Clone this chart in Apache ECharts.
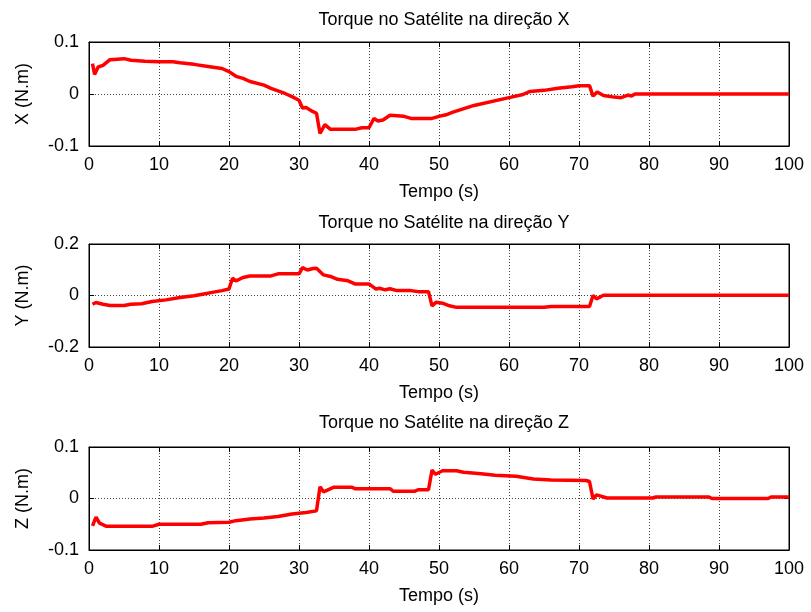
<!DOCTYPE html>
<html>
<head>
<meta charset="utf-8">
<script src="https://cdn.jsdelivr.net/npm/echarts@6/dist/echarts.min.js"></script>
<style>html,body{margin:0;padding:0;background:#fff;}#c{width:811px;height:612px;}</style>
</head>
<body>
<div id="c"></div>
<script>
// ---- Data ----
const xTicks = [0,10,20,30,40,50,60,70,80,90,100];
const titles = ['Torque no Satélite na direção X','Torque no Satélite na direção Y','Torque no Satélite na direção Z'];
const yNames = ['X (N.m)','Y (N.m)','Z (N.m)'];
const yRanges = [[-0.1,0.1,0.1],[-0.2,0.2,0.2],[-0.1,0.1,0.1]];

const timeX = [0.5,0.8,1.3,2,3,5,6,8,10,12,13,15,17,19,20,21,22,23,25,26,27,28,29,30,30.5,31,32,32.5,33,33.7,34.5,38,39,40,40.7,41.3,42,43,45,46,49,50,51,52,55,60,62,63,65,67,69,70,71.5,72,72.6,73.5,75,76,77,77.5,78,100];
const torqueX = [0.0585,0.0375,0.052,0.055,0.066,0.068,0.065,0.063,0.062,0.062,0.06,0.057,0.053,0.049,0.043,0.034,0.030,0.024,0.017,0.011,0.006,0.001,-0.005,-0.012,-0.027,-0.026,-0.034,-0.037,-0.076,-0.059,-0.068,-0.068,-0.065,-0.065,-0.047,-0.052,-0.05,-0.041,-0.043,-0.047,-0.047,-0.043,-0.04,-0.035,-0.022,-0.007,-0.001,0.005,0.007,0.011,0.014,0.016,0.016,-0.004,0.004,-0.003,-0.006,-0.007,-0.002,-0.004,0,0];

const timeY = [0.5,1,2,3,5,6,7.5,9,11,13,15,16,18,19,20,20.5,21,22,23,26,27,30,30.5,31.2,32,32.5,33.5,34.5,35.5,37,38,40,41,41.5,42.3,43,44,46,47,48.5,49,49.6,50.5,51.5,52.5,65,66,71.5,72,72.5,73.5,100];
const torqueY = [-0.034,-0.027,-0.034,-0.039,-0.039,-0.034,-0.032,-0.023,-0.017,-0.008,-0.001,0.004,0.014,0.019,0.025,0.067,0.057,0.07,0.076,0.076,0.084,0.084,0.108,0.099,0.105,0.106,0.080,0.074,0.063,0.057,0.045,0.045,0.025,0.028,0.022,0.026,0.019,0.019,0.015,0.015,-0.04,-0.026,-0.03,-0.04,-0.046,-0.046,-0.043,-0.043,0,-0.013,0.001,0.001];

const timeZ = [0.5,1,1.5,2.5,9,10,16,17,20,21,23,25,27,29,31,32.5,33,33.5,35,37.5,38,43,43.5,46.5,47,48.5,49,49.5,50.5,52.5,53.5,56,58,61,63.5,66,71,71.5,72,72.5,74,80.5,81,88.5,89,97,97.5,100];
const torqueZ = [-0.053,-0.036,-0.048,-0.054,-0.054,-0.05,-0.05,-0.047,-0.046,-0.043,-0.04,-0.038,-0.035,-0.03,-0.027,-0.024,0.023,0.013,0.022,0.022,0.019,0.019,0.014,0.014,0.017,0.017,0.055,0.047,0.054,0.054,0.051,0.048,0.045,0.043,0.038,0.036,0.035,0.033,-0.001,0.007,0.001,0.001,0.003,0.003,0,0,0.003,0.003];

const times = [timeX,timeY,timeZ];
const torques = [torqueX,torqueY,torqueZ];

// ---- Layout ----
const FONT = 'Liberation Sans, Arial, sans-serif';
const FS = 18;
const grids = [
  {left:89, right:22, top:42, height:104},
  {left:89, right:22, top:244, height:103},
  {left:89, right:22, top:447, height:103}
];
const titleTops = [6, 209, 409];

const option = {
  backgroundColor:'#fff',
  animation:false,
  title: titles.map((t,i)=>({text:t, left:439, top:titleTops[i], textAlign:'center',
    textStyle:{fontFamily:FONT, fontSize:FS, fontWeight:'normal', color:'#000'}})),
  grid: grids.map(g=>Object.assign({show:true, borderColor:'#000', borderWidth:1, backgroundColor:'#fff'}, g)),
  xAxis: [],
  yAxis: [],
  series: []
};

for (let i=0;i<3;i++){
  const [ymin,ymax,yint] = yRanges[i];
  option.xAxis.push({
    type:'value', gridIndex:i, min:0, max:100, interval:10, position:'bottom',
    name:'Tempo (s)', nameLocation:'middle', nameGap:37,
    nameTextStyle:{fontFamily:FONT, fontSize:FS, color:'#000'},
    axisLine:{show:true, onZero:false, lineStyle:{color:'#000', width:1}},
    axisTick:{show:true, inside:true, length:5, lineStyle:{color:'#000'}},
    axisLabel:{show:true, margin:10, fontFamily:FONT, fontSize:FS, color:'#000',
      formatter:v=>xTicks.indexOf(v)>=0?String(v):''},
    splitLine:{show:true, lineStyle:{color:'#444', type:[1,2], width:1}}
  });
  option.xAxis.push({
    type:'value', gridIndex:i, min:0, max:100, interval:10, position:'top',
    axisLine:{show:true, onZero:false, lineStyle:{color:'#000', width:1}},
    axisTick:{show:true, inside:true, length:5, lineStyle:{color:'#000'}},
    axisLabel:{show:false}, splitLine:{show:false}
  });
  option.yAxis.push({
    type:'value', gridIndex:i, min:ymin, max:ymax, interval:yint, position:'left',
    name:yNames[i], nameLocation:'middle', nameGap:57, nameRotate:90,
    nameTextStyle:{fontFamily:FONT, fontSize:FS, color:'#000'},
    axisLine:{show:true, onZero:false, lineStyle:{color:'#000', width:1}},
    axisTick:{show:true, inside:true, length:5, lineStyle:{color:'#000'}},
    axisLabel:{show:true, margin:10, fontFamily:FONT, fontSize:FS, color:'#000',
      formatter:v=>Math.abs(v)<1e-9?'0':String(Math.round(v*10)/10)},
    splitLine:{show:true, lineStyle:{color:'#444', type:[1,2], width:1}}
  });
  option.yAxis.push({
    type:'value', gridIndex:i, min:ymin, max:ymax, interval:yint, position:'right',
    axisLine:{show:true, onZero:false, lineStyle:{color:'#000', width:1}},
    axisTick:{show:true, inside:true, length:5, lineStyle:{color:'#000'}},
    axisLabel:{show:false}, splitLine:{show:false}
  });
  option.series.push({
    type:'line', xAxisIndex:2*i, yAxisIndex:2*i, showSymbol:false, symbol:'none',
    data: times[i].map((t,k)=>[t, torques[i][k]]),
    lineStyle:{color:'#ff0000', width:3.5}, z:5
  });
}

const chart = echarts.init(document.getElementById('c'), null, {renderer:'canvas'});
chart.setOption(option);
</script>
</body>
</html>
